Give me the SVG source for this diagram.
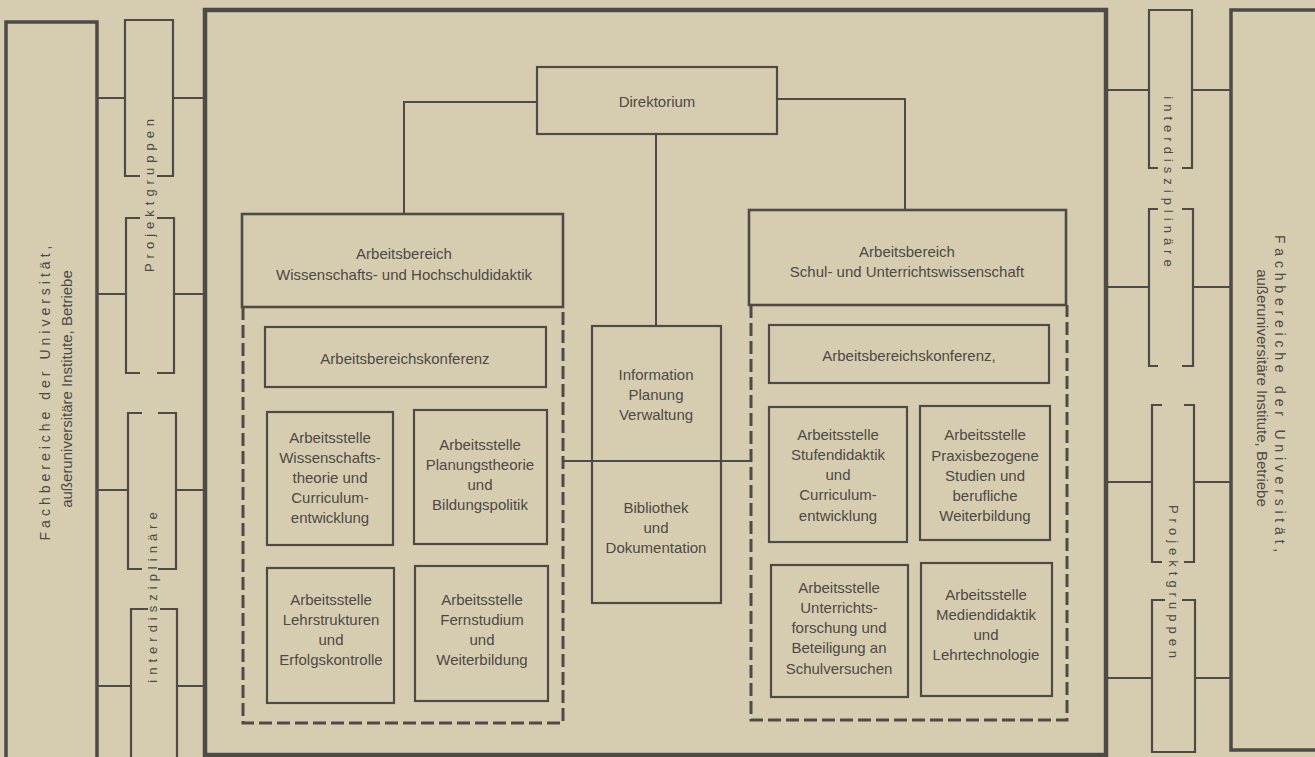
<svg xmlns="http://www.w3.org/2000/svg" width="1315" height="757" viewBox="0 0 1315 757">
<style>
.bg{fill:#d6cdb0}
.box{fill:none;stroke:#4d4a47;stroke-width:2.2}
.thick{fill:none;stroke:#4d4a47;stroke-width:4.5}
.outer{fill:none;stroke:#4d4a47;stroke-width:3.5}
.dash{fill:none;stroke:#4d4a47;stroke-width:3;stroke-dasharray:13 5}
.ln{fill:none;stroke:#4d4a47;stroke-width:2}
text{font-family:"Liberation Sans",Arial,sans-serif;fill:#4c4945;font-size:15px;text-anchor:middle}
.v{font-size:13px;letter-spacing:5px;dominant-baseline:central}
.f1{font-size:14px;letter-spacing:4px;dominant-baseline:central}
.f1r{font-size:14px;letter-spacing:4.8px;dominant-baseline:central}
.f2{font-size:15px;dominant-baseline:central}
</style>
<rect class="bg" x="0" y="0" width="1315" height="757"/>

<g id="left-outer">
  <path class="outer" d="M6,770 V22 H97 V770"/>
  <text class="f1" transform="translate(45,391) rotate(-90)">Fachbereiche der Universität,</text>
  <text class="f2" transform="translate(66,389) rotate(-90)">außeruniversitäre Institute, Betriebe</text>
</g>

<g id="right-outer">
  <path class="outer" d="M1330,10 H1231 V750 H1330"/>
  <text class="f1r" transform="translate(1280,396) rotate(90)">Fachbereiche der Universität,</text>
  <text class="f2" transform="translate(1262,388) rotate(90)">außeruniversitäre Institute, Betriebe</text>
</g>

<g id="left-groups">
  <path class="box" d="M140,176 H125 V20 H173 V176 H157"/>
  <path class="box" d="M140,218 H126 V373 H140 M157,373 H174 V218 H157"/>
  <path class="box" d="M142,413 H128 V569 H142 M158,569 H176 V413 H158"/>
  <path class="box" d="M148,609 H131 V770 M177,770 V609 H160"/>
  <text class="v" transform="translate(149,193) rotate(-90)">Projektgruppen</text>
  <text class="v" transform="translate(152,595) rotate(-90)">interdisziplinäre</text>
</g>

<g id="right-groups">
  <path class="box" d="M1158,168 H1149 V10 H1192 V168 H1182"/>
  <path class="box" d="M1158,209 H1149 V366 H1158 M1182,366 H1193 V209 H1182"/>
  <path class="box" d="M1162,405 H1152 V562 H1162 M1184,562 H1194 V405 H1184"/>
  <path class="box" d="M1165,600 H1152 V752 H1195 V600 H1182"/>
  <text class="v" transform="translate(1168,184) rotate(90)">interdisziplinäre</text>
  <text class="v" transform="translate(1173,584) rotate(90)">Projektgruppen</text>
</g>

<g id="main-frame">
  <rect class="thick" x="205" y="10" width="901" height="745"/>
</g>

<g id="connectors">
  <path class="ln" d="M97,98 H125 M173,98 H205"/>
  <path class="ln" d="M97,294 H126 M174,294 H205"/>
  <path class="ln" d="M97,490 H128 M176,490 H205"/>
  <path class="ln" d="M97,686 H131 M177,686 H205"/>
  <path class="ln" d="M1106,90 H1149 M1192,90 H1231"/>
  <path class="ln" d="M1106,287 H1149 M1193,287 H1231"/>
  <path class="ln" d="M1106,482 H1152 M1194,482 H1231"/>
  <path class="ln" d="M1106,678 H1152 M1195,678 H1231"/>
  <path class="ln" d="M537,102 H404 V214"/>
  <path class="ln" d="M777,99 H905 V210"/>
  <path class="ln" d="M656,134 V326"/>
  <path class="ln" d="M563,461 H751"/>
</g>

<g id="direktorium">
  <rect class="box" x="537" y="67" width="240" height="67"/>
  <text x="657" y="107" font-size="14">Direktorium</text>
</g>

<g id="ab-left">
  <rect class="box" x="242" y="214" width="321" height="93" style="stroke-width:2.6"/>
  <path class="dash" d="M243,307 V723 H563 V307"/>
  <text x="404" y="259">Arbeitsbereich</text>
  <text x="404" y="280">Wissenschafts- und Hochschuldidaktik</text>
</g>

<g id="ab-right">
  <rect class="box" x="749" y="210" width="317" height="95" style="stroke-width:2.6"/>
  <path class="dash" d="M751,305 V720 H1067 V305"/>
  <text x="907" y="257">Arbeitsbereich</text>
  <text x="907" y="277">Schul- und Unterrichtswissenschaft</text>
</g>

<g id="abk-left">
  <rect class="box" x="265" y="327" width="281" height="60"/>
  <text x="405" y="364">Arbeitsbereichskonferenz</text>
</g>

<g id="abk-right">
  <rect class="box" x="769" y="325" width="280" height="58"/>
  <text x="909" y="361">Arbeitsbereichskonferenz,</text>
</g>

<g id="ast-l1">
  <rect class="box" x="267" y="412" width="126" height="133"/>
  <text x="330" y="443">Arbeitsstelle</text>
  <text x="330" y="463">Wissenschafts-</text>
  <text x="330" y="483">theorie und</text>
  <text x="330" y="503">Curriculum-</text>
  <text x="330" y="523">entwicklung</text>
</g>

<g id="ast-l2">
  <rect class="box" x="414" y="410" width="133" height="134"/>
  <text x="480" y="450">Arbeitsstelle</text>
  <text x="480" y="470">Planungstheorie</text>
  <text x="480" y="490">und</text>
  <text x="480" y="510">Bildungspolitik</text>
</g>

<g id="ast-l3">
  <rect class="box" x="267" y="568" width="127" height="135"/>
  <text x="331" y="605">Arbeitsstelle</text>
  <text x="331" y="625">Lehrstrukturen</text>
  <text x="331" y="645">und</text>
  <text x="331" y="665">Erfolgskontrolle</text>
</g>

<g id="ast-l4">
  <rect class="box" x="415" y="566" width="133" height="135"/>
  <text x="482" y="605">Arbeitsstelle</text>
  <text x="482" y="625">Fernstudium</text>
  <text x="482" y="645">und</text>
  <text x="482" y="665">Weiterbildung</text>
</g>

<g id="info">
  <rect class="box" x="592" y="326" width="129" height="277"/>
  <text x="656" y="380">Information</text>
  <text x="656" y="400">Planung</text>
  <text x="656" y="420">Verwaltung</text>
  <text x="656" y="513">Bibliothek</text>
  <text x="656" y="533">und</text>
  <text x="656" y="553">Dokumentation</text>
</g>

<g id="ast-r1">
  <rect class="box" x="769" y="407" width="138" height="135"/>
  <text x="838" y="440">Arbeitsstelle</text>
  <text x="838" y="460">Stufendidaktik</text>
  <text x="838" y="480">und</text>
  <text x="838" y="500">Curriculum-</text>
  <text x="838" y="521">entwicklung</text>
</g>

<g id="ast-r2">
  <rect class="box" x="920" y="406" width="130" height="134"/>
  <text x="985" y="440">Arbeitsstelle</text>
  <text x="985" y="461">Praxisbezogene</text>
  <text x="985" y="481">Studien und</text>
  <text x="985" y="501">berufliche</text>
  <text x="985" y="521">Weiterbildung</text>
</g>

<g id="ast-r3">
  <rect class="box" x="771" y="565" width="137" height="132"/>
  <text x="839" y="593">Arbeitsstelle</text>
  <text x="839" y="613">Unterrichts-</text>
  <text x="839" y="633">forschung und</text>
  <text x="839" y="653">Beteiligung an</text>
  <text x="839" y="674">Schulversuchen</text>
</g>

<g id="ast-r4">
  <rect class="box" x="921" y="563" width="131" height="133"/>
  <text x="986" y="600">Arbeitsstelle</text>
  <text x="986" y="620">Mediendidaktik</text>
  <text x="986" y="640">und</text>
  <text x="986" y="660">Lehrtechnologie</text>
</g>
</svg>
